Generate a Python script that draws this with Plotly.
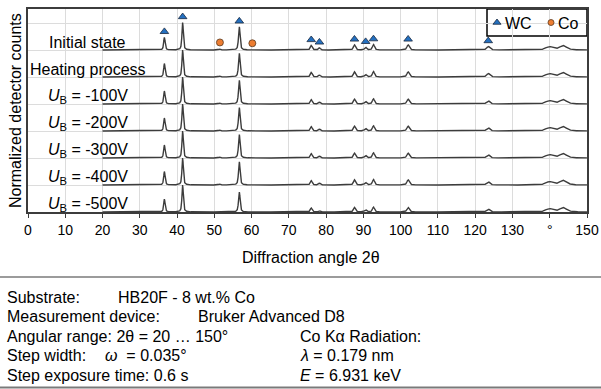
import numpy as np
import plotly.graph_objects as go

# ---- measurement / scan ----
two_theta_start = 20.0
two_theta_end = 150.0
step_width = 0.035

# ---- samples, top to bottom ----
sample_labels = [
    "Initial state",
    "Heating process",
    "<i>U</i><sub>B</sub> = -100V",
    "<i>U</i><sub>B</sub> = -200V",
    "<i>U</i><sub>B</sub> = -300V",
    "<i>U</i><sub>B</sub> = -400V",
    "<i>U</i><sub>B</sub> = -500V",
]

# ---- reflections (2θ in degrees) ----
peak_positions = [36.6, 41.5, 51.5, 56.7, 76.0, 78.2, 87.6, 90.6, 92.7, 102.0, 123.5, 139.9, 143.6]
peak_fwhm      = [0.45, 0.45, 0.60, 0.50, 0.60, 0.60, 0.65, 0.65, 0.65, 0.75, 1.00, 2.20, 2.20]

# normalized peak intensities for each sample (rows follow sample_labels)
peak_intensities = [
    [0.47, 1.02, 0.03, 0.86, 0.17, 0.08, 0.19, 0.10, 0.20, 0.19, 0.13, 0.12, 0.16],
    [0.50, 1.00, 0.03, 0.88, 0.17, 0.07, 0.19, 0.09, 0.20, 0.19, 0.13, 0.12, 0.16],
    [0.48, 1.00, 0.03, 0.88, 0.16, 0.07, 0.18, 0.09, 0.19, 0.18, 0.12, 0.12, 0.16],
    [0.48, 1.00, 0.03, 0.87, 0.16, 0.07, 0.18, 0.09, 0.19, 0.18, 0.12, 0.12, 0.16],
    [0.48, 1.00, 0.03, 0.87, 0.16, 0.07, 0.18, 0.09, 0.19, 0.18, 0.12, 0.12, 0.16],
    [0.50, 1.00, 0.03, 0.86, 0.16, 0.07, 0.19, 0.09, 0.20, 0.19, 0.12, 0.12, 0.17],
    [0.48, 1.00, 0.01, 0.74, 0.15, 0.05, 0.17, 0.08, 0.18, 0.17, 0.11, 0.12, 0.16],
]

# phase identification marks
wc_positions = [36.6, 41.5, 56.7, 76.0, 78.2, 87.6, 90.6, 92.7, 102.0, 123.5]
co_positions = [51.5, 60.2]

tick_values = list(range(0, 151, 10))
tick_labels = [str(v) for v in tick_values]
tick_labels[14] = "°"

info_rows = [
    ("Substrate:", "HB20F - 8 wt.% Co", ""),
    ("Measurement device:", "Bruker Advanced D8", ""),
    ("Angular range: 2θ = 20 … 150°", "", "Co Kα Radiation:"),
    ("Step width:", "<i>ω</i>  = 0.035°", "<i>λ</i> = 0.179 nm"),
    ("Step exposure time: 0.6 s", "", "<i>E</i> = 6.931 keV"),
]

# ---- page geometry (pixels) ----
W, H = 601, 389
PL, PR, PT, PB = 28, 587, 9, 212
SPACING_PX = 27.0


def paper_x(px):
    return (px - PL) / (PR - PL)


def paper_y(py):
    return (PB - py) / (PB - PT)


FONT = "Liberation Sans, Arial, sans-serif"
LINE = "#3c3c3c"
WC_BLUE = "#2470c0"
CO_ORANGE = "#ed7d31"


def profile(x, center, fwhm, eta=0.6):
    d = (x - center) / fwhm
    return eta / (1 + 4 * d * d) + (1 - eta) * np.exp(-4 * np.log(2) * d * d)


two_theta = np.arange(two_theta_start, two_theta_end + step_width / 2, step_width)
n = len(sample_labels)

fig = go.Figure()
annotations = []

for i, (label, inten) in enumerate(zip(sample_labels, peak_intensities)):
    offset = n - 1 - i
    counts = np.zeros_like(two_theta)
    for pos, fw, amp in zip(peak_positions, peak_fwhm, inten):
        counts += amp * profile(two_theta, pos, fw)
    fig.add_trace(go.Scatter(
        x=two_theta, y=counts + offset, mode="lines",
        line=dict(color=LINE, width=1.4), showlegend=False, hoverinfo="skip",
    ))
    annotations.append(dict(
        x=16, y=offset + 0.28, xref="x", yref="y", text=label, showarrow=False,
        xanchor="center", yanchor="middle", font=dict(family=FONT, size=16, color="#000"),
    ))

# phase marks above the initial-state pattern
top_offset = n - 1
top_int = dict(zip(peak_positions, peak_intensities[0]))
wc_y = [top_offset + top_int[p] + 0.21 for p in wc_positions]
co_y = [top_offset + top_int.get(p, 0.0) + 0.25 for p in co_positions]

fig.add_trace(go.Scatter(
    x=wc_positions, y=wc_y, mode="markers", showlegend=False, hoverinfo="skip",
    marker=dict(symbol="triangle-up", size=7.5, color=WC_BLUE, line=dict(color="#1b2a40", width=0.8)),
))
fig.add_trace(go.Scatter(
    x=co_positions, y=co_y, mode="markers", showlegend=False, hoverinfo="skip",
    marker=dict(symbol="circle", size=7, color=CO_ORANGE, line=dict(color="#5a3a20", width=0.8)),
))

# legend symbols on an overlay axis in paper units
fig.add_trace(go.Scatter(
    x=[paper_x(497)], y=[paper_y(22.5)], xaxis="x2", yaxis="y2", mode="markers",
    showlegend=False, hoverinfo="skip",
    marker=dict(symbol="triangle-up", size=7, color=WC_BLUE, line=dict(color="#1b2a40", width=0.8)),
))
fig.add_trace(go.Scatter(
    x=[paper_x(551)], y=[paper_y(22.5)], xaxis="x2", yaxis="y2", mode="markers",
    showlegend=False, hoverinfo="skip",
    marker=dict(symbol="circle", size=6, color=CO_ORANGE, line=dict(color="#5a3a20", width=0.8)),
))
annotations.append(dict(x=paper_x(503), y=paper_y(23), xref="paper", yref="paper", text="WC",
                        showarrow=False, xanchor="left", yanchor="middle",
                        font=dict(family=FONT, size=16, color="#000")))
annotations.append(dict(x=paper_x(556), y=paper_y(23), xref="paper", yref="paper", text="Co",
                        showarrow=False, xanchor="left", yanchor="middle",
                        font=dict(family=FONT, size=16, color="#000")))

# axis titles
annotations.append(dict(x=paper_x(311), y=paper_y(257), xref="paper", yref="paper",
                        text="Diffraction angle 2θ", showarrow=False, xanchor="center",
                        yanchor="middle", font=dict(family=FONT, size=16, color="#000")))
annotations.append(dict(x=paper_x(15), y=paper_y(111), xref="paper", yref="paper",
                        text="Normalized detector counts", textangle=-90, showarrow=False,
                        xanchor="center", yanchor="middle",
                        font=dict(family=FONT, size=16, color="#000")))

# measurement info block
row_y = [297, 316.5, 336, 355.5, 375]
col_x = [5, 116, 298]
for ry, (c1, c2, c3) in zip(row_y, info_rows):
    for cx, txt in zip(col_x, (c1, c2, c3)):
        if not txt:
            continue
        x_left = cx
        if txt.startswith("Bruker"):
            x_left = 196
        if txt.startswith("<i>ω"):
            x_left = 103
        annotations.append(dict(x=paper_x(x_left), y=paper_y(ry), xref="paper", yref="paper",
                                text=txt, showarrow=False, xanchor="left", yanchor="middle",
                                font=dict(family=FONT, size=16, color="#000")))

shapes = [
    dict(type="rect", xref="paper", yref="paper", x0=paper_x(487), x1=paper_x(587),
         y0=paper_y(36), y1=paper_y(9), line=dict(color="#000", width=1.5),
         fillcolor="white", layer="between"),
    dict(type="line", xref="paper", yref="paper", x0=paper_x(0), x1=paper_x(601),
         y0=paper_y(277), y1=paper_y(277), line=dict(color="#7a7a7a", width=1.5)),
    dict(type="line", xref="paper", yref="paper", x0=paper_x(0), x1=paper_x(601),
         y0=paper_y(387.5), y1=paper_y(387.5), line=dict(color="#7a7a7a", width=2)),
]

fig.update_layout(
    width=W, height=H,
    margin=dict(l=PL, r=W - PR, t=PT, b=H - PB, autoexpand=False),
    paper_bgcolor="white", plot_bgcolor="white",
    font=dict(family=FONT, size=14, color="#000"),
    showlegend=False,
    annotations=annotations,
    shapes=shapes,
    xaxis=dict(
        range=[0, 150], tickvals=tick_values, ticktext=tick_labels,
        showgrid=True, gridcolor="#dcdcdc", gridwidth=1, zeroline=False,
        showline=True, linecolor="#3c3c3c", linewidth=1.5, mirror=True,
        ticks="outside", ticklen=4, tickcolor="#3c3c3c", tickwidth=1.2,
        tickfont=dict(family=FONT, size=14, color="#000"),
    ),
    yaxis=dict(
        range=[0, (PB - PT) / SPACING_PX], tickvals=list(range(0, 8)),
        showticklabels=False, showgrid=True, gridcolor="#dcdcdc", gridwidth=1,
        zeroline=False, showline=True, linecolor="#3c3c3c", linewidth=1.5, mirror=True,
        ticks="",
    ),
    xaxis2=dict(overlaying="x", range=[0, 1], visible=False, domain=[0, 1]),
    yaxis2=dict(overlaying="y", range=[0, 1], visible=False, domain=[0, 1]),
)

fig.write_html("out.html")
